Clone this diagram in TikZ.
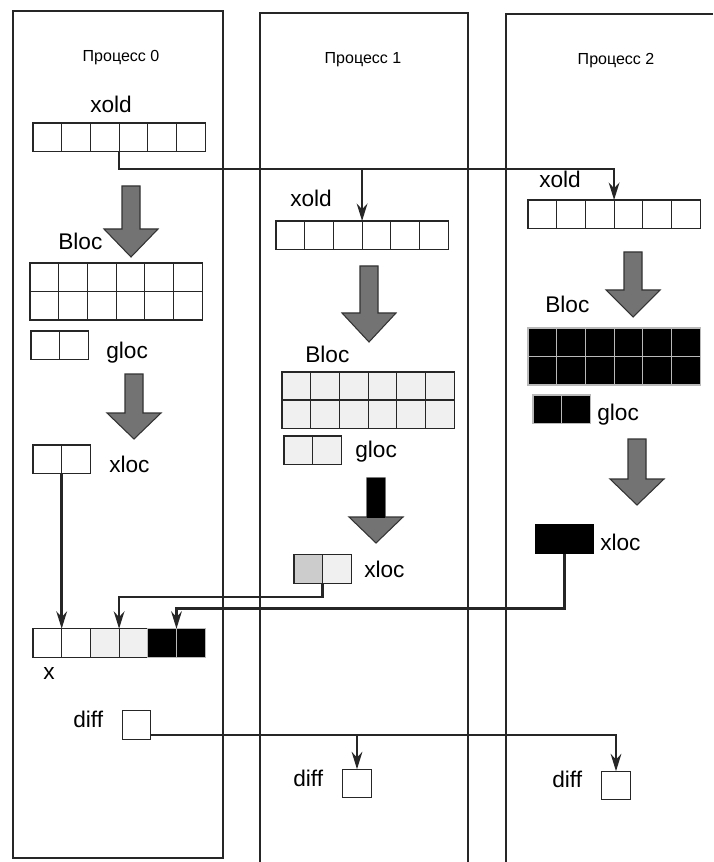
\documentclass[tikz,border=0pt]{standalone}
\usepackage{fontspec}
\setmainfont{Liberation Sans}
\usetikzlibrary{arrows.meta,calc}
\newcommand\cellrow[5]{% prefix, left x, top y, count, style
  \foreach \i in {1,...,#4}{\node[cell,#5] (#1-\i) at ({#2+(\i-0.5)*28.7},{#3+14.25}) {};}}
\newcommand\bigarr[4]{% cx, shaft top, head top, tip
  \filldraw[bigarrow] ({#1-9},#2) -- ({#1+9},#2) -- ({#1+9},#3) -- ({#1+27},#3) -- (#1,#4) -- ({#1-27},#3) -- ({#1-9},#3) -- cycle;}
\begin{document}
\begin{tikzpicture}[x=0.75pt,y=-0.75pt,
  cell/.style={draw=black!85, line width=0.8pt, minimum width=21.5pt, minimum height=21.4pt, inner sep=0pt, outer sep=0pt},
  wcell/.style={fill=white},
  lcell/.style={fill=gray!12},
  mcell/.style={fill=gray!40},
  dcell/.style={fill=black, draw=gray!55},
  lbl/.style={font=\fontsize{17}{19}\selectfont, inner sep=0pt, anchor=base west},
  hdr/.style={font=\fontsize{12}{14}\selectfont, inner sep=0pt, anchor=base},
  wire/.style={line width=1.8pt, draw=black!85},
  conn/.style={wire, -{Stealth[length=13pt,width=8pt]}},
  bigarrow/.style={draw=black!80, fill=black!55, line width=0.8pt},
  colline/.style={line width=1pt, draw=black!85}]
\useasboundingbox (0,0) rectangle (713,862);

% process columns
\draw[colline] (13,11) rectangle (223,858);
\draw[colline] (260,862) -- (260,13) -- (468,13) -- (468,862);
\draw[colline] (506,862) -- (506,14) -- (713,14);

% headers
\node[hdr] (h0) at (121,62) {Процесс 0};
\node[hdr] (h1) at (363,64) {Процесс 1};
\node[hdr] (h2) at (616,65) {Процесс 2};

% ---------- process 0 ----------
\node[lbl] (lxold0) at (90,113) {xold};
\cellrow{xoldA}{33}{123}{6}{wcell}
\bigarr{131}{186}{229}{257}
\node[lbl] (lbloc0) at (58,250) {Bloc};
\cellrow{blocA1}{30}{263}{6}{wcell}
\cellrow{blocA2}{30}{291.5}{6}{wcell}
\cellrow{glocA}{31}{331}{2}{wcell}
\node[lbl] (lgloc0) at (106,358) {gloc};
\bigarr{134}{374}{413}{439}
\cellrow{xlocA}{33}{445}{2}{wcell}
\node[lbl] (lxloc0) at (109,472) {xloc};
\foreach \i/\f in {1/wcell,2/wcell,3/lcell,4/lcell,5/dcell,6/dcell}
  \node[cell,\f] (xa-\i) at ({33+(\i-0.5)*28.7},643) {};
\node[lbl] (lx) at (43,679) {x};
\node[lbl] (ldiff0) at (73,727) {diff};
\node[cell,wcell] (diffA) at (136.5,725) {};

% ---------- process 1 ----------
\node[lbl] (lxold1) at (290,207) {xold};
\cellrow{xoldB}{276}{221}{6}{wcell}
\bigarr{369}{266}{313}{342}
\node[lbl] (lbloc1) at (305,362) {Bloc};
\cellrow{blocB1}{282}{372}{6}{lcell}
\cellrow{blocB2}{282}{400}{6}{lcell}
\cellrow{glocB}{284}{436}{2}{lcell}
\node[lbl] (lgloc1) at (355,457) {gloc};
\bigarr{376}{478}{517}{543}
\fill[black] (367,478) rectangle (385,517.5);
\node[cell,mcell] (xlocB-1) at ({294+14.35},569) {};
\node[cell,lcell] (xlocB-2) at ({294+43.05},569) {};
\node[lbl] (lxloc1) at (364,577) {xloc};
\node[lbl] (ldiff1) at (293,786) {diff};
\node[cell,wcell] (diffB) at (357,783.5) {};

% ---------- process 2 ----------
\node[lbl] (lxold2) at (539,188) {xold};
\cellrow{xoldC}{528}{200}{6}{wcell}
\bigarr{633}{252}{290}{317}
\node[lbl] (lbloc2) at (545,313) {Bloc};
\cellrow{blocC1}{528}{328}{6}{dcell}
\cellrow{blocC2}{528}{356.5}{6}{dcell}
\cellrow{glocC}{533}{395}{2}{dcell}
\node[lbl] (lgloc2) at (597,420) {gloc};
\bigarr{637}{439}{479}{505}
\cellrow{xlocC}{536}{525}{2}{fill=black,draw=black}
\node[lbl] (lxloc2) at (600,550) {xloc};
\node[lbl] (ldiff2) at (552,787) {diff};
\node[cell,wcell] (diffC) at (616,785.5) {};

% ---------- connectors ----------
\coordinate (hy1) at (0,169);
\coordinate (j1) at (xoldB-3.north east |- hy1);
\draw[conn] (xoldA-3.south east) |- (j1) -| (xoldC-3.north east);
\draw[conn] (j1) -- (xoldB-3.north east);

\draw[conn] (xlocA-1.south east) -- (xlocA-1.south east |- xa-1.north);
\draw[conn] (xlocB-1.south east) -- ++(0,14) -| (xa-3.north east);
\draw[conn] (xlocC-1.south east) -- ++(0,55) -| (xa-5.north east);

\coordinate (d0) at ($(diffA.south east)+(0,-4)$);
\draw[conn] (d0) -| (diffC.north);
\draw[conn] (d0 -| diffB.north) -- (diffB.north);
\end{tikzpicture}
\end{document}
